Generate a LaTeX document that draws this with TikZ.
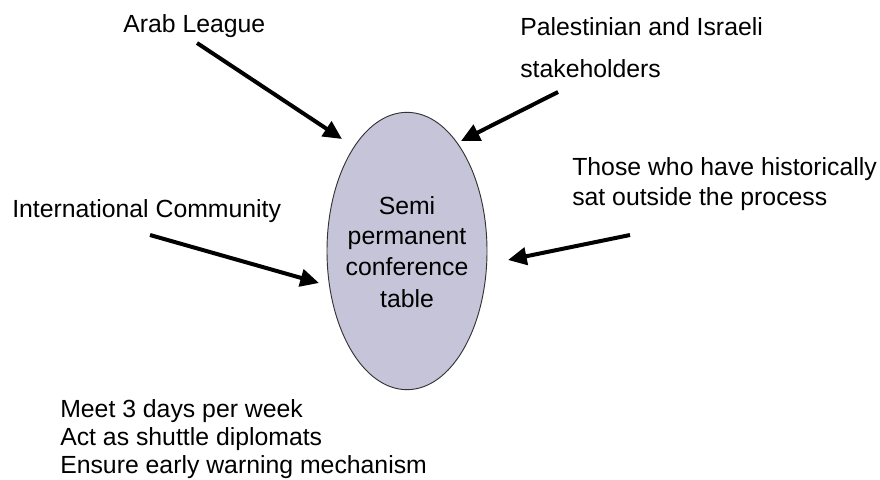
\documentclass[tikz,border=0pt]{standalone}
\usepackage{fontspec}
\setmainfont{Liberation Sans}
\usetikzlibrary{arrows.meta,shapes.geometric}
\definecolor{tablefill}{RGB}{198,196,216}
\begin{document}
\begin{tikzpicture}[x=0.75pt,y=-0.75pt,
  lbl/.style={inner sep=0pt,anchor=base west,align=left,font=\fontsize{18.6pt}{22.5pt}\selectfont},
  arr/.style={line width=3pt,-{Triangle[length=14pt,width=13pt]}},
  tablebox/.style={ellipse,draw=black!80,line width=0.7pt,fill=tablefill,minimum width=120pt,minimum height=208pt,inner sep=0pt}]
\useasboundingbox (0,0) rectangle (880,479);
\node[tablebox] (tab) at (407,251) {};
\node[lbl,anchor=base,align=center] (tabtext) at (407,307) {Semi\\[0.4pt]permanent\\[0.4pt]conference\\[1.4pt]table};
\node[lbl] (arab) at (123,32) {Arab League};
\node[lbl,font=\fontsize{18.6pt}{31.5pt}\selectfont] (pal) at (520,77) {Palestinian and Israeli\\stakeholders};
\node[lbl] (intl) at (12,217) {International Community};
\node[lbl] (outs) at (572,205) {Those who have historically\\sat outside the process};
\node[lbl,font=\fontsize{18.6pt}{21pt}\selectfont] (tasks) at (60,473) {Meet 3 days per week\\Act as shuttle diplomats\\Ensure early warning mechanism};
\coordinate (a1) at (197,43);
\coordinate (a1e) at (342,139);
\coordinate (a2) at (558,92);
\coordinate (a2e) at (461,141);
\coordinate (a3) at (630,235);
\coordinate (a3e) at (508,260);
\coordinate (a4) at (150,235);
\coordinate (a4e) at (319,283);
\draw[arr] (a1) -- (a1e);
\draw[arr] (a2) -- (a2e);
\draw[arr] (a3) -- (a3e);
\draw[arr] (a4) -- (a4e);
\end{tikzpicture}
\end{document}
